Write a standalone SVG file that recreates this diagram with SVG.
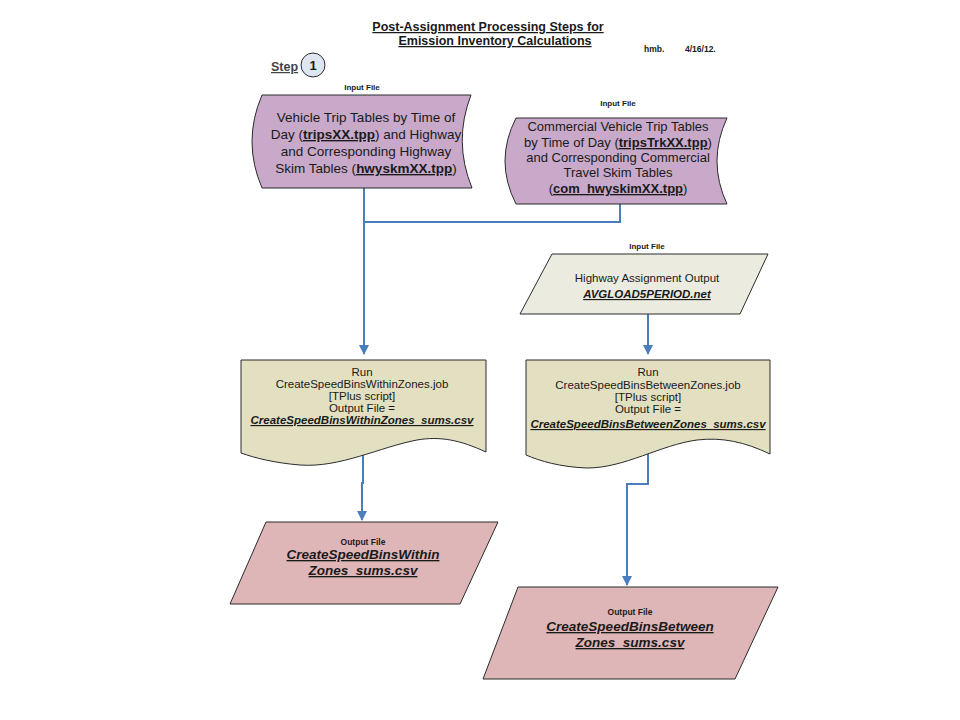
<svg xmlns="http://www.w3.org/2000/svg" width="960" height="720" viewBox="0 0 960 720">
<style>
text{font-family:"Liberation Sans",Arial,sans-serif;fill:#1a1a1a}
.title{font-size:12.5px;font-weight:bold;text-decoration:underline;text-anchor:middle}
.small{font-size:8px;font-weight:bold;text-anchor:middle}
.tiny{font-size:8.5px;font-weight:bold}
.lbl{font-size:8.5px;font-weight:bold;text-anchor:middle}
.t13{font-size:13.5px;text-anchor:middle}
.t12{font-size:13px;text-anchor:middle}
.t11{font-size:11.5px;text-anchor:middle}
.b{font-weight:bold;text-decoration:underline}
.bi{font-weight:bold;font-style:italic;text-decoration:underline}
.out{font-size:13.5px;font-weight:bold;font-style:italic;text-decoration:underline;text-anchor:middle}
.shape{stroke:#2b2b2b;stroke-width:1}
.purple{fill:#c8a9c9}
.khaki{fill:#e2e0c0}
.grey{fill:#ebecdf}
.pink{fill:#dfb6b7}
.conn{fill:none;stroke:#4a7ebb;stroke-width:2}
</style>
<defs>
<marker id="arr" viewBox="0 0 10 10" refX="9" refY="5" markerWidth="5" markerHeight="5" orient="auto" markerUnits="strokeWidth">
<path d="M0,0 L10,5 L0,10 Z" fill="#4a7ebb"/>
</marker>
</defs>
<g id="header">
<text class="title" x="488" y="31">Post-Assignment Processing Steps for</text>
<text class="title" x="495" y="45">Emission Inventory Calculations</text>
<text class="tiny" x="644" y="52">hmb.</text>
<text class="tiny" x="685" y="52">4/16/12.</text>
<text x="271" y="71" style="font-size:12.5px;font-weight:bold;text-decoration:underline;fill:#444">Step</text>
<circle cx="313" cy="65" r="12" fill="#dfe6f1" stroke="#2b2b2b" stroke-width="1"/>
<text x="313" y="70" style="font-size:13px;font-weight:bold;text-anchor:middle">1</text>
</g>
<g id="connectors">
<path class="conn" d="M364,188 V354" marker-end="url(#arr)"/>
<path class="conn" d="M620,204 V222 H364"/>
<path class="conn" d="M648,314 V354" marker-end="url(#arr)"/>
<path class="conn" d="M363,448 V483 H362 V520" marker-end="url(#arr)"/>
<path class="conn" d="M648,450 V484 H627 V585" marker-end="url(#arr)"/>
</g>
<g id="input1">
<text class="small" x="362" y="90">Input File</text>
<path class="shape purple" d="M262,95 H471 Q453,141.5 472,188 H262 Q242,141.5 262,95 Z"/>
<text class="t13" x="366" y="122">Vehicle Trip Tables by Time of</text>
<text class="t13" x="366" y="139">Day (<tspan class="b">tripsXX.tpp</tspan>) and Highway</text>
<text class="t13" x="366" y="156">and Corresponding Highway</text>
<text class="t13" x="366" y="173">Skim Tables (<tspan class="b">hwyskmXX.tpp</tspan>)</text>
</g>
<g id="input2">
<text class="small" x="618" y="106">Input File</text>
<path class="shape purple" d="M516,118 H727 Q707,161 727,204 H516 Q494,161 516,118 Z"/>
<text class="t12" x="618" y="131">Commercial Vehicle Trip Tables</text>
<text class="t12" x="618" y="147">by Time of Day (<tspan class="b">tripsTrkXX.tpp</tspan>)</text>
<text class="t12" x="618" y="162">and Corresponding Commercial</text>
<text class="t12" x="618" y="177">Travel Skim Tables</text>
<text class="t12" x="618" y="193">(<tspan class="b">com_hwyskimXX.tpp</tspan>)</text>
</g>
<g id="input3">
<text class="small" x="647" y="249">Input File</text>
<path class="shape grey" d="M552,254 H768 L740,314 H520 Z"/>
<text class="t11" x="647" y="282">Highway Assignment Output</text>
<text class="t11 bi" x="647" y="298">AVGLOAD5PERIOD.net</text>
</g>
<g id="run1">
<path class="shape khaki" d="M241,360 H486 V452 C460,440 440,436 417,440 C380,447 340,468 300,465 C275,463 255,458 241,453 Z"/>
<text class="t11" x="362" y="376">Run</text>
<text class="t11" x="362" y="388">CreateSpeedBinsWithinZones.job</text>
<text class="t11" x="362" y="400">[TPlus script]</text>
<text class="t11" x="362" y="412">Output File =</text>
<text class="t11 bi" x="362" y="424">CreateSpeedBinsWithinZones_sums.csv</text>
</g>
<g id="run2">
<path class="shape khaki" d="M526,360 H770 V454 C745,442 722,437 697,440 C660,445 625,468 587,468 C560,467 540,461 526,455 Z"/>
<text class="t11" x="648" y="376">Run</text>
<text class="t11" x="648" y="389">CreateSpeedBinsBetweenZones.job</text>
<text class="t11" x="648" y="401">[TPlus script]</text>
<text class="t11" x="648" y="413">Output File =</text>
<text class="t11 bi" x="648" y="428">CreateSpeedBinsBetweenZones_sums.csv</text>
</g>
<g id="output1">
<path class="shape pink" d="M266,522 H498 L460,604 H230 Z"/>
<text class="lbl" x="363" y="545">Output File</text>
<text class="out" x="363" y="559">CreateSpeedBinsWithin</text>
<text class="out" x="363" y="575">Zones_sums.csv</text>
</g>
<g id="output2">
<path class="shape pink" d="M518,587 H778 L735,679 H483 Z"/>
<text class="lbl" x="630" y="615">Output File</text>
<text class="out" x="630" y="631">CreateSpeedBinsBetween</text>
<text class="out" x="630" y="647">Zones_sums.csv</text>
</g>
</svg>
